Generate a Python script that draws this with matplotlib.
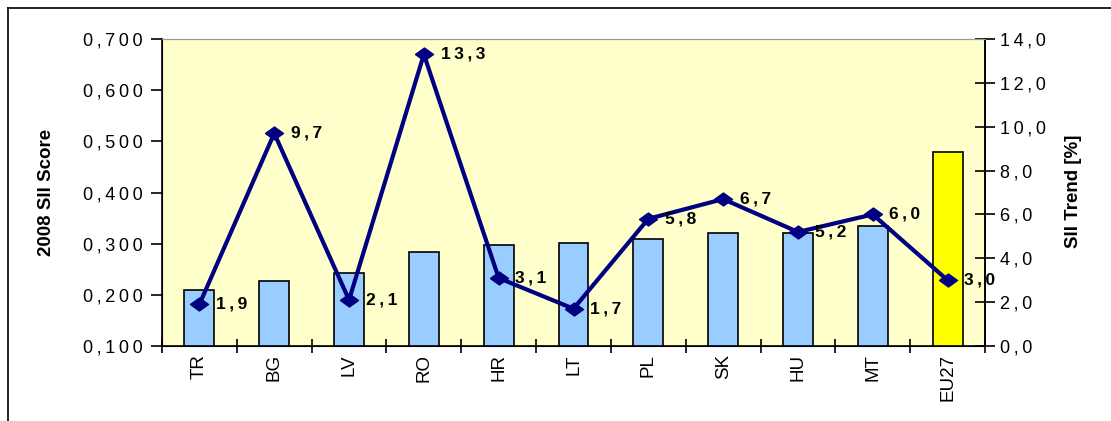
import numpy as np
import matplotlib
matplotlib.use("Agg")
import matplotlib.pyplot as plt
from matplotlib.lines import Line2D
from matplotlib.ticker import FixedLocator, FuncFormatter

plt.rcParams['font.family'] = ['Liberation Sans', 'DejaVu Sans']

# countries, 2008 SII score (bars) and SII trend in % (line)
countries = ['TR', 'BG', 'LV', 'RO', 'HR', 'LT', 'PL', 'SK', 'HU', 'MT', 'EU27']
sii_score = [0.209, 0.227, 0.243, 0.284, 0.298, 0.301, 0.309, 0.320, 0.321, 0.334, 0.480]
sii_trend = [1.9, 9.7, 2.1, 13.3, 3.1, 1.7, 5.8, 6.7, 5.2, 6.0, 3.0]

SP = '\u2009'


def spaced(s):
    return SP.join(s)


W, H = 1111, 421
fig = plt.figure(figsize=(W / 100, H / 100), dpi=100)
# outer chart frame (top and left edges visible)
fig.add_artist(Line2D([8/W, 1.0], [1 - 8/H, 1 - 8/H], color='black', lw=1.2))
fig.add_artist(Line2D([8/W, 8/W], [0.0, 1 - 8/H], color='black', lw=1.2))

ax = fig.add_axes([162/W, 75/H, 823/W, 307/H])
ax.set_facecolor('#FFFFCC')
x = np.arange(len(countries))
colors = ['#99CCFF'] * (len(countries) - 1) + ['#FFFF00']
ax.bar(x, sii_score, width=0.4, bottom=0, color=colors, edgecolor='black', lw=1.2, zorder=2)
ax.set_ylim(0.1, 0.7)
ax.set_xlim(-0.5, len(countries) - 0.5)
ax.yaxis.set_major_locator(FixedLocator(np.arange(0.1, 0.71, 0.1)))
ax.yaxis.set_major_formatter(FuncFormatter(lambda v, p: spaced(f'{v:.3f}'.replace('.', ','))))
ax.set_xticks(np.arange(-0.5, len(countries), 1.0))
ax.set_xticklabels([])
ax.set_xticks(x, minor=True)
ax.set_xticklabels(countries, minor=True, rotation=90, fontsize=13.5)
ax.tick_params(axis='x', which='minor', length=0, pad=6)
ax.tick_params(axis='x', which='major', direction='inout', length=10, width=1.2)
ax.tick_params(axis='y', direction='out', length=8, width=1.2, labelsize=13, pad=6)
for s in ['left', 'bottom', 'right']:
    ax.spines[s].set_linewidth(1.2)
ax.spines['top'].set_color('#999999')

# slightly flattened diamond marker
diamond = [(-1, 0), (0, 0.72), (1, 0), (0, -0.72), (-1, 0)]

ax2 = ax.twinx()
ax2.plot(x, sii_trend, color='#000080', lw=3, marker=diamond, ms=13, mec='#000080',
         mfc='#000080', zorder=3)
ax2.set_ylim(0, 14)
ax2.yaxis.set_major_locator(FixedLocator(np.arange(0, 14.1, 2)))
ax2.yaxis.set_major_formatter(FuncFormatter(lambda v, p: spaced(f'{v:.1f}'.replace('.', ','))))
ax2.tick_params(axis='y', direction='inout', length=14, width=1.2, labelsize=13, pad=4)
ax2.spines['right'].set_linewidth(1.2)
ax2.spines['top'].set_color('#999999')
for xi, v in zip(x, sii_trend):
    ax2.annotate(spaced(f'{v:.1f}'.replace('.', ',')), (xi, v), xytext=(12, 0),
                 textcoords='offset points', fontsize=12.5, fontweight='bold',
                 va='center', ha='left', zorder=4, annotation_clip=False)

fig.text(47/W, 1 - 192.5/H, '2008 SII Score', rotation=90, fontsize=13.5,
         fontweight='bold', ha='center', va='center')
fig.text(1073/W, 1 - 191.5/H, 'SII Trend [%]', rotation=90, fontsize=13.5,
         fontweight='bold', ha='center', va='center')

fig.savefig('out.png', dpi=100)
